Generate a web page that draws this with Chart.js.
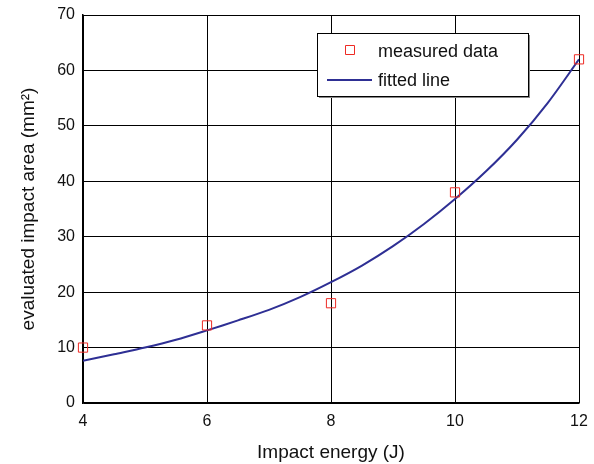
<!DOCTYPE html>
<html>
<head>
<meta charset="utf-8">
<script src="https://cdn.jsdelivr.net/npm/chart.js@4.4.1/dist/chart.umd.min.js"></script>
<style>
  html, body { margin: 0; padding: 0; background: #fff; }
  #wrap { width: 594px; height: 464px; }
</style>
</head>
<body>
<div id="wrap"><canvas id="chart" width="594" height="464"></canvas></div>
<script>
// data
const measuredX = [4, 6, 8, 10, 12];
const measuredY = [10, 14, 18, 38, 62];

const fittedX = [4, 4.5, 5, 5.5, 6, 6.5, 7, 7.5, 8, 8.5, 9, 9.5, 10, 10.5, 11, 11.5, 12];
const fittedY = [7.6, 8.8, 10.0, 11.4, 13.1, 14.9, 16.8, 19.1, 21.8, 24.8, 28.3, 32.3, 36.8, 41.8, 47.5, 54.2, 62.0];

const xTicks = [4, 6, 8, 10, 12];
const yTicks = [0, 10, 20, 30, 40, 50, 60, 70];

const FONT = "'Liberation Sans', Arial, sans-serif";
const LINE_COLOR = '#2e2f94';
const MARK_COLOR = '#ee2a24';

// legend box drawn inside the plot, top right
const boxLegend = {
    id: 'boxLegend',
    afterDraw(chart) {
        const ctx = chart.ctx;
        const a = chart.chartArea;
        const x = a.right - 262, y = a.top + 18, w = 211, h = 63;
        ctx.save();
        ctx.fillStyle = '#888';
        ctx.fillRect(x + 2, y + 2, w, h);
        ctx.fillStyle = '#fff';
        ctx.fillRect(x, y, w, h);
        ctx.strokeStyle = '#000';
        ctx.lineWidth = 1;
        ctx.strokeRect(x + 0.5, y + 0.5, w, h);

        // marker sample
        ctx.beginPath();
        ctx.strokeStyle = MARK_COLOR;
        ctx.lineWidth = 1;
        ctx.rect(x + 28.5, y + 12.5, 9, 9);
        ctx.stroke();

        // line sample
        ctx.beginPath();
        ctx.strokeStyle = LINE_COLOR;
        ctx.lineWidth = 2;
        ctx.moveTo(x + 10, y + 47);
        ctx.lineTo(x + 55, y + 47);
        ctx.stroke();

        ctx.fillStyle = '#111';
        ctx.font = '18px ' + FONT;
        ctx.textBaseline = 'middle';
        ctx.fillText(chart.data.datasets[0].label, x + 61, y + 19);
        ctx.fillText(chart.data.datasets[1].label, x + 61, y + 48);
        ctx.restore();
    }
};

new Chart(document.getElementById('chart'), {
    type: 'scatter',
    data: {
        datasets: [{
            label: 'measured data',
            data: measuredX.map((x, i) => ({ x: x, y: measuredY[i] })),
            pointStyle: 'rect',
            pointRadius: 6.5,
            pointBorderColor: MARK_COLOR,
            pointBackgroundColor: 'rgba(0,0,0,0)',
            pointBorderWidth: 1,
            showLine: false,
            clip: false,
            order: 1
        }, {
            label: 'fitted line',
            data: fittedX.map((x, i) => ({ x: x, y: fittedY[i] })),
            showLine: true,
            borderColor: LINE_COLOR,
            borderWidth: 2,
            pointRadius: 0,
            tension: 0.3,
            order: 2
        }]
    },
    options: {
        responsive: false,
        animation: false,
        layout: { padding: { top: 15, right: 15, left: 0, bottom: 0 } },
        plugins: {
            legend: { display: false },
            tooltip: { enabled: false }
        },
        scales: {
            x: {
                type: 'linear',
                min: 4,
                max: 12,
                afterFit(scale) {
                    scale.height = 61;
                    scale.paddingLeft = 0;
                    scale.paddingRight = 0;
                },
                afterBuildTicks(scale) { scale.ticks = xTicks.map(v => ({ value: v })); },
                grid: { color: '#000', lineWidth: 1, drawTicks: false },
                border: { color: '#000', width: 1.5 },
                ticks: { color: '#111', font: { family: FONT, size: 16 }, padding: 9 },
                title: {
                    display: true,
                    text: 'Impact energy (J)',
                    color: '#111',
                    font: { family: FONT, size: 19 },
                    padding: { top: -2, bottom: 0 }
                }
            },
            y: {
                min: 0,
                max: 70,
                afterFit(scale) {
                    scale.width = 83;
                    scale.paddingTop = 0;
                    scale.paddingBottom = 0;
                },
                afterBuildTicks(scale) { scale.ticks = yTicks.map(v => ({ value: v })); },
                grid: { color: '#000', lineWidth: 1, drawTicks: false },
                border: { color: '#000', width: 1.5 },
                ticks: { color: '#111', font: { family: FONT, size: 16 }, padding: 8 },
                title: {
                    display: true,
                    text: 'evaluated impact area (mm²)',
                    color: '#111',
                    font: { family: FONT, size: 19 },
                    padding: { top: 17, bottom: 0 }
                }
            }
        }
    },
    plugins: [boxLegend]
});
</script>
</body>
</html>
